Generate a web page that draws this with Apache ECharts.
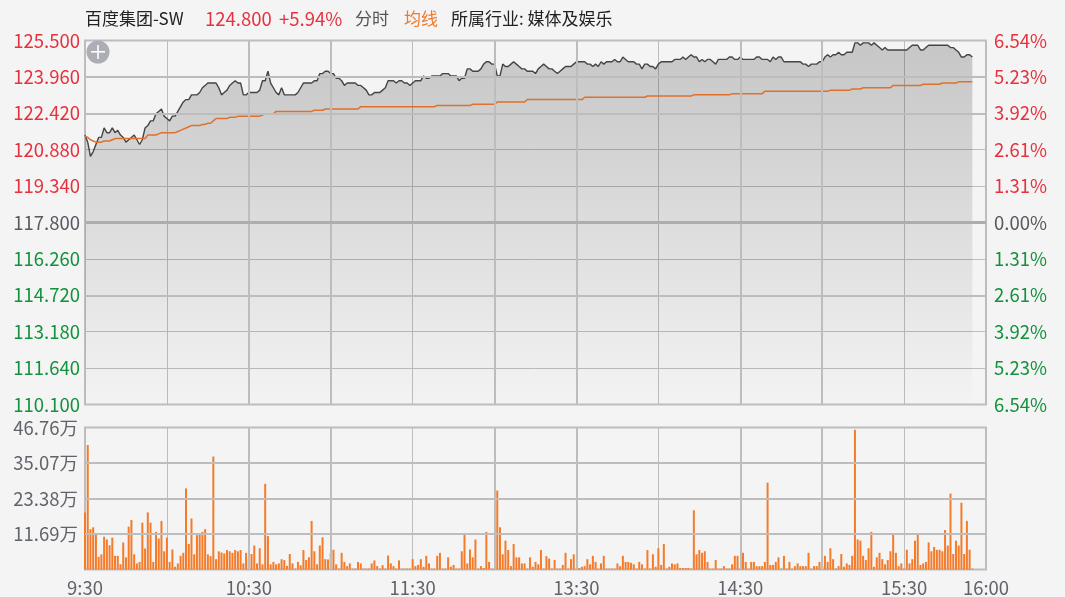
<!DOCTYPE html>
<html><head><meta charset="utf-8">
<style>html,body{margin:0;padding:0;background:#f4f4f4}#c{width:1065px;height:597px}</style>
<script src="https://cdn.jsdelivr.net/npm/echarts@6/dist/echarts.min.js"></script>
</head><body><div id="c"></div>
<script>
const priceTickLabels=['110.100','111.640','113.180','114.720','116.260','117.800','119.340','120.880','122.420','123.960','125.500'];
const pctTickLabels=['6.54%','5.23%','3.92%','2.61%','1.31%','0.00%','1.31%','2.61%','3.92%','5.23%','6.54%'];
const volTickLabels=['','11.69万','23.38万','35.07万','46.76万'];
const timeTicks={0:'9:30',60:'10:30',120:'11:30',180:'13:30',240:'14:30',300:'15:30',330:'16:00'};
const prices=[
121.5,121.2,120.6,120.8,121.1,121.4,121.4,121.8,121.6,121.6,121.8,121.6,121.7,121.5,121.4,121.2,121.3,121.4,121.5,121.3,121.1,121.3,121.8,121.9,122.1,122.1,122.4,122.5,122.6,122.3,122.2,122.1,122.3,122.3,122.5,122.7,122.9,123.0,123.0,
123.2,123.2,123.2,123.3,123.5,123.6,123.7,123.7,123.7,123.7,123.5,123.2,123.3,123.4,123.6,123.7,123.8,123.7,123.7,123.2,123.2,123.3,123.3,123.3,123.3,123.4,123.8,123.8,124.2,
123.7,123.5,123.3,123.2,123.5,123.2,123.2,123.2,123.2,123.2,123.3,123.5,123.7,123.7,123.7,123.7,123.8,123.8,124.1,124.1,124.2,124.2,124.1,124.1,123.9,123.9,123.8,123.6,123.7,123.7,123.7,123.7,123.6,
123.6,123.5,123.4,123.2,123.2,123.3,123.3,123.3,123.4,123.5,123.8,123.8,123.8,123.7,123.8,123.8,123.7,123.7,123.6,123.7,123.8,123.8,123.8,124.0,123.9,123.9,124.0,124.0,124.0,124.0,124.1,124.1,124.1,124.0,124.0,124.0,123.8,123.9,123.9,
124.3,124.3,124.2,124.2,124.2,124.3,124.5,124.6,124.6,124.5,124.5,124.0,124.0,124.5,124.4,124.4,124.5,124.6,124.5,124.4,124.3,124.3,124.2,124.2,124.2,124.1,124.3,124.4,124.5,124.4,124.3,124.3,124.2,124.1,124.2,124.3,124.4,124.4,124.4,124.5,124.6,124.6,124.6,124.6,124.5,124.5,124.4,124.5,124.4,124.6,124.5,124.6,124.6,124.6,124.7,124.6,124.6,124.8,124.7,124.6,124.6,124.6,124.5,124.5,124.3,124.5,124.5,124.4,124.4,124.3,124.5,124.6,124.6,124.6,124.6,124.6,124.7,124.7,124.7,124.8,124.7,124.8,124.9,124.8,124.8,124.6,124.7,124.6,124.7,
124.7,124.6,124.5,124.7,124.7,124.7,124.7,124.8,124.8,124.7,124.7,124.8,124.7,124.7,124.7,124.7,124.7,124.8,124.8,124.7,124.7,124.7,124.6,124.8,124.7,124.8,124.8,124.6,124.6,124.6,124.6,124.6,124.6,124.6,124.5,124.5,124.4,124.5,124.5,124.5,124.6,124.6,124.8,124.9,124.8,124.9,124.9,125.0,124.9,124.9,125.0,125.0,125.0,125.4,125.4,125.3,125.4,125.4,125.4,125.3,125.4,125.3,125.2,125.1,125.2,125.1,125.1,125.1,125.1,125.1,125.1,125.1,125.1,125.2,125.3,125.3,125.3,125.1,125.1,125.2,125.3,125.3,125.3,125.3,125.3,125.3,125.3,125.3,125.2,125.2,125.1,125.0,124.8,124.8,124.9,124.9,124.8];
const averages=[
121.45,121.4,121.3,121.25,121.2,121.2,121.2,121.25,121.25,121.25,121.3,
121.35,121.35,121.35,121.35,121.35,121.35,121.35,121.35,121.35,121.35,121.35,121.35,
121.5,121.5,121.5,121.5,121.55,121.6,121.6,121.6,121.6,121.6,121.6,
121.65,121.7,121.75,121.8,121.85,121.9,121.9,121.9,121.9,121.95,121.95,122.0,122.0,122.1,
122.2,122.2,122.2,122.2,122.2,122.25,122.25,122.25,
122.3,122.3,122.3,122.3,122.3,122.3,122.3,122.3,122.3,122.35,122.4,122.4,122.4,122.4,
122.5,122.5,122.5,122.5,122.5,122.5,122.5,122.5,122.5,122.5,122.5,122.5,122.5,122.5,
122.55,122.55,122.55,122.55,
122.6,122.6,122.6,122.6,122.6,122.6,122.6,122.6,122.6,122.6,122.6,122.6,122.6,
122.7,122.7,122.7,122.7,122.7,122.7,122.7,122.7,122.7,122.7,122.7,122.7,122.7,122.7,122.7,122.7,122.7,122.7,122.7,122.7,122.7,122.7,122.7,122.7,122.7,122.7,122.7,122.7,
122.75,122.75,122.75,122.75,122.75,122.75,122.75,122.75,122.75,122.75,122.75,122.75,122.75,
122.8,122.8,122.8,122.8,122.8,122.8,122.8,122.8,122.8,
122.9,122.9,122.9,122.9,122.9,122.9,122.9,122.9,122.9,122.9,122.9,
123.0,123.0,123.0,123.0,123.0,123.0,123.0,123.0,123.0,123.0,123.0,123.0,123.0,123.0,123.0,123.0,123.0,123.0,123.0,123.0,123.0,
123.1,123.1,123.1,123.1,123.1,123.1,123.1,123.1,123.1,123.1,123.1,123.1,123.1,123.1,123.1,123.1,123.1,123.1,123.1,123.1,123.1,123.1,123.1,
123.15,123.15,123.15,123.15,123.15,123.15,123.15,123.15,123.15,123.15,123.15,123.15,123.15,123.15,123.15,123.15,123.15,
123.2,123.2,123.2,123.2,123.2,123.2,123.2,123.2,123.2,123.2,123.2,123.2,123.2,123.2,
123.25,123.25,123.25,123.25,123.25,123.25,123.25,123.25,123.25,123.25,123.25,123.25,
123.35,123.35,123.35,123.35,123.35,123.35,123.35,123.35,123.35,123.35,123.35,123.35,123.35,123.35,123.35,123.35,123.35,123.35,123.35,123.35,123.35,123.35,123.35,123.35,
123.4,123.4,123.4,123.4,123.4,123.4,123.4,123.4,123.45,123.45,123.45,123.45,
123.5,123.5,123.5,123.5,123.5,123.5,123.5,123.5,123.5,123.5,123.5,
123.6,123.6,123.6,123.6,123.6,123.6,123.6,123.6,123.6,123.6,123.6,
123.65,123.65,123.65,123.65,123.65,123.65,123.65,
123.7,123.7,123.7,123.7,123.7,123.7,123.75,123.75,123.75,123.75,123.75,123.75];
const volumes=[
18.8,41,13.3,13.9,11.6,4.2,5,10.8,9.9,8,10.5,4.5,4.5,1.7,8.9,4,14.1,16.3,5,2,
2.5,15.4,6.9,18.8,15.4,2.5,12.4,10.2,16,6,10.5,2.5,6.6,.9,2,4.5,5.5,26.7,8.4,16.8,
5,11.3,11.6,12.4,13.3,5,4.4,37.2,3.4,6,5.6,5.3,6.4,6,5.5,6.4,6,6.4,2,5.5,
3.4,5.1,7.9,2,7,1.7,28.2,11,1.7,2.5,1.7,2,3.4,3.1,1.2,5.1,2,.3,2.5,1.4,6.4,
3.1,4,16,6,1.7,7.9,10.6,3.4,3.3,5.3,6.5,1.7,.3,5.5,2.5,1.1,2,.3,.3,2.5,
2,.3,.3,.3,2,3,1.1,.3,1.4,.3,4.6,2,1.1,.3,3,.3,.3,.3,.3,3.4,1.1,
1.5,3.4,.9,4.5,2,.3,.3,4.5,5.5,.3,.3,4,.9,1.5,.3,.3,6,11.9,2,6.6,4,
9.9,.3,1.1,.5,12.4,2.5,.3,.3,26,13.9,5,9.5,6.4,1.1,8.4,4,4,2,2,.3,4,
.9,2.5,1.7,6.4,.3,4.4,3.6,.3,3.1,.3,.3,1.5,5.5,.3,3.4,5,.3,.5,.9,1.1,3.4,1.7,
4.5,2.5,.3,2,4.5,.3,.3,.3,.3,2,1.1,4.5,2.5,2.5,2.2,1.7,.3,2.5,1.7,.3,6.4,
.3,5,.9,7,1.5,8.4,.3,.9,2,1.7,2,.5,.5,.5,.5,.3,19.5,5,6.4,5.5,6,2.5,
.3,.3,3.1,.3,.3,1.1,.3,.3,1.7,4.5,4.5,.3,5.5,2.5,.3,2.5,2.5,1.1,1.1,1.1,2.5,
28.6,1.5,1.5,2.5,4,.3,4.5,.3,2.5,.3,1.1,2,1.1,1.1,1.1,5.5,.3,1.1,1.1,2.5,1.1,
4.5,2.5,7,3.4,.3,1.1,5.1,.9,2,1.5,4.5,46,9.9,9.5,4.5,3.1,7,12.4,.9,4,
5.5,3.4,1.7,3.1,6,11.9,5.5,1.1,2,.3,6.5,2,3.4,9.5,11.6,1.5,2,2.5,8.9,6,
7.4,6.5,6.5,6,13,7.9,25,5.1,9.5,7.9,22,5.1,16,6.5,.3];
const thickPriceLines=[123.96,122.42,114.72];
const zeroLine=117.8;
const thickVolLines=[11.69,23.38,35.07];
const thickTimeIdx=[60,90,150,180,240,270];

const minutes=[];for(let i=0;i<=330;i++)minutes.push(String(i));
const RED='#e5323e',GREEN='#12923c',DARK='#555a60',GRID='#bdbdbd',FONT='"Noto Sans CJK SC","Noto Sans",sans-serif';
const chart=echarts.init(document.getElementById('c'),null,{renderer:'canvas'});
const xBase={type:'category',data:minutes,boundaryGap:false,axisTick:{show:false},axisLine:{show:false},
  splitLine:{show:true,interval:(i)=>i%30===0,lineStyle:{color:GRID,width:1}}};
const txt=(x,t,c,size)=>({type:'text',left:x,top:10,z:50,style:{text:t,fill:c,font:(size||17)+'px '+FONT}});
chart.setOption({
  animation:false,backgroundColor:'#f4f4f4',
  grid:[{left:85,top:40.5,width:901,height:364,show:true,borderColor:GRID,borderWidth:2,backgroundColor:'transparent'},
        {left:85,top:427.5,width:901,height:142,show:true,borderColor:GRID,borderWidth:2,backgroundColor:'transparent'}],
  xAxis:[Object.assign({},xBase,{gridIndex:0,axisLabel:{show:false}}),
         Object.assign({},xBase,{gridIndex:1,axisLabel:{show:true,margin:9,color:'#60646a',fontSize:18.5,fontFamily:FONT,
           interval:(i)=>timeTicks[i]!==undefined,formatter:(v,i)=>timeTicks[+v]||''}})],
  yAxis:[
   {type:'value',gridIndex:0,min:110.1,max:125.5,interval:1.54,axisLine:{show:false},axisTick:{show:false},
    splitLine:{show:true,lineStyle:{color:GRID,width:1}},
    axisLabel:{margin:5,fontSize:18.5,fontFamily:FONT,formatter:(v,i)=>priceTickLabels[i],color:(v,i)=>i===undefined?DARK:(i>5?RED:i===5?DARK:GREEN)}},
   {type:'value',gridIndex:0,position:'right',min:-6.54,max:6.54,interval:1.308,axisLine:{show:false},axisTick:{show:false},splitLine:{show:false},
    axisLabel:{margin:8,fontSize:18.5,fontFamily:FONT,formatter:(v,i)=>pctTickLabels[i],color:(v,i)=>i===undefined?DARK:(i>5?RED:i===5?DARK:GREEN)}},
   {type:'value',gridIndex:1,min:0,max:46.76,interval:11.69,axisLine:{show:false},axisTick:{show:false},
    splitLine:{show:true,lineStyle:{color:GRID,width:1}},
    axisLabel:{margin:7,fontSize:18.5,fontFamily:FONT,color:'#60646a',formatter:(v,i)=>volTickLabels[i]}}
  ],
  series:[
   {type:'line',xAxisIndex:0,yAxisIndex:0,data:[],z:1,silent:true,
    markLine:{silent:true,symbol:'none',label:{show:false},animation:false,
      lineStyle:{color:GRID,width:2,type:'solid'},
      data:thickPriceLines.map(v=>({yAxis:v})).concat(thickTimeIdx.map(i=>({xAxis:i})),[{yAxis:zeroLine,lineStyle:{color:'#adadad',width:3,type:'solid'}}])}},
   {type:'line',xAxisIndex:1,yAxisIndex:2,data:[],z:1,silent:true,
    markLine:{silent:true,symbol:'none',label:{show:false},animation:false,
      lineStyle:{color:GRID,width:2,type:'solid'},
      data:thickVolLines.map(v=>({yAxis:v})).concat(thickTimeIdx.map(i=>({xAxis:i})))}},
   {name:'分时',type:'line',xAxisIndex:0,yAxisIndex:0,data:prices,z:3,symbol:'none',showSymbol:false,smooth:false,
    lineStyle:{color:'#444444',width:1.4},
    areaStyle:{origin:'start',opacity:1,color:new echarts.graphic.LinearGradient(0,0,0,1,[{offset:0,color:'rgba(0,0,0,0.19)'},{offset:1,color:'rgba(0,0,0,0.005)'}])}},
   {name:'均线',type:'line',xAxisIndex:0,yAxisIndex:0,data:averages,z:4,symbol:'none',showSymbol:false,smooth:false,
    lineStyle:{color:'#e0702c',width:1.5}},
   {name:'成交量',type:'bar',xAxisIndex:1,yAxisIndex:2,data:volumes,z:3,barWidth:2,itemStyle:{color:'#f47b2a'}}
  ],
  graphic:[
   txt(85,'百度集团-SW','#222222',17),
   txt(205,'124.800',RED,18.5),
   txt(279,'+5.94%',RED,18.5),
   txt(355,'分时','#555555',17),
   txt(404,'均线','#ef7a2d',17),
   txt(451,'所属行业: 媒体及娱乐','#222222',17),
   {type:'circle',shape:{cx:98,cy:52,r:11.5},style:{fill:'#adadb5'},z:60},
   {type:'rect',shape:{x:91,y:51,width:14,height:1.6},style:{fill:'#ffffff'},z:61},
   {type:'rect',shape:{x:97.2,y:45,width:1.6,height:14},style:{fill:'#ffffff'},z:61}
  ]
});
</script></body></html>
